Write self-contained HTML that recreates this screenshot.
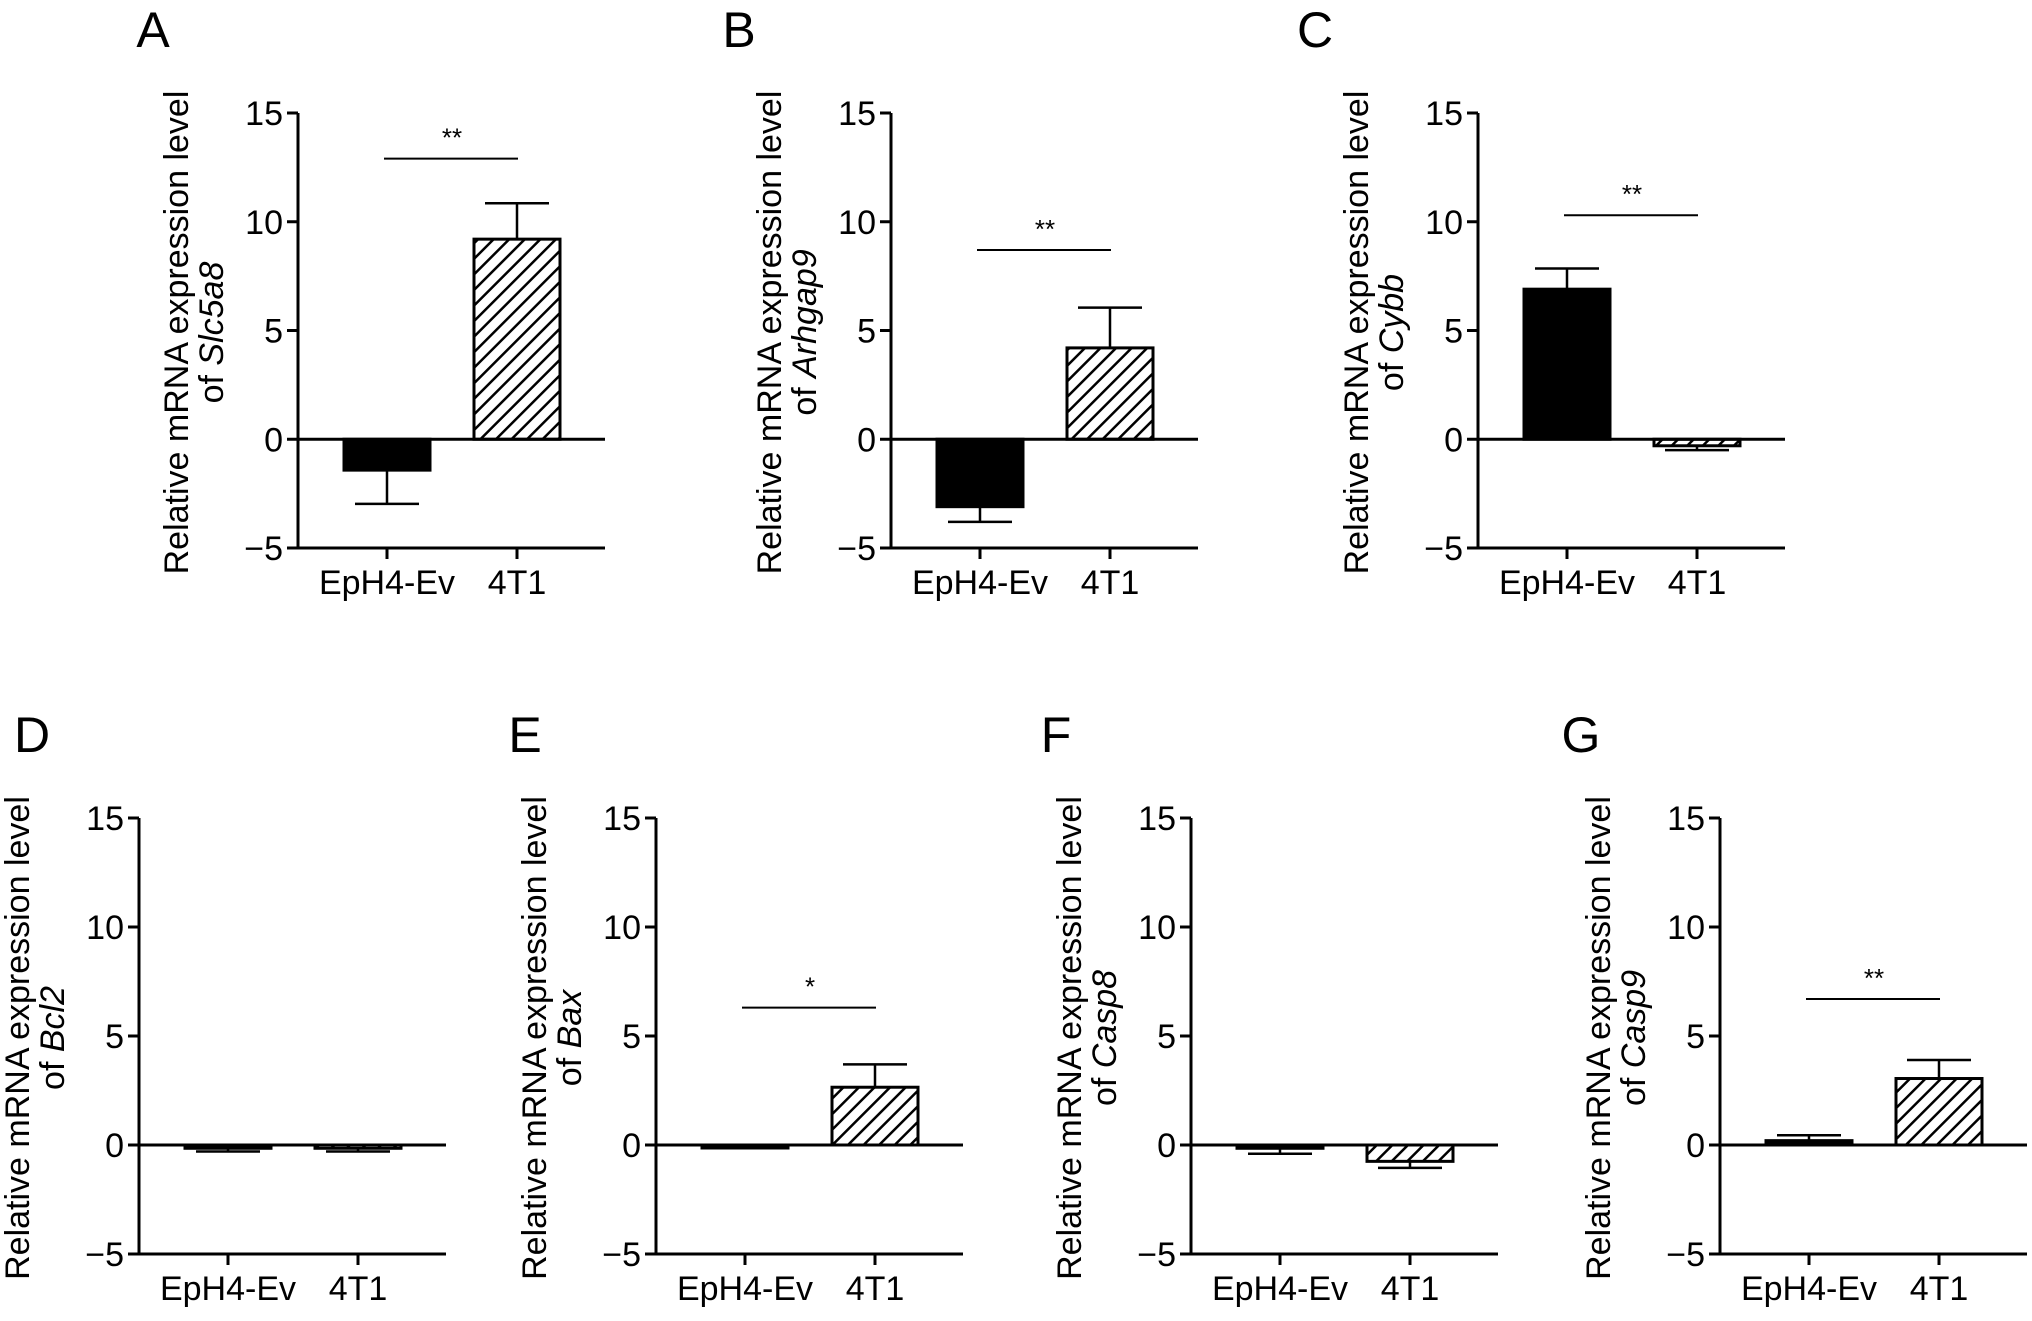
<!DOCTYPE html>
<html><head><meta charset="utf-8">
<style>
html,body{margin:0;padding:0;background:#fff;}
svg{display:block;font-family:"Liberation Sans",Arial,sans-serif;}
</style></head>
<body>
<svg id="fig" width="2032" height="1321" viewBox="0 0 2032 1321" xmlns="http://www.w3.org/2000/svg">
<defs>
<pattern id="hatch" patternUnits="userSpaceOnUse" width="11" height="11" patternTransform="rotate(45)">
<rect width="11" height="11" fill="#fff"/>
<line x1="0" y1="0" x2="0" y2="11" stroke="#000" stroke-width="5"/>
</pattern>
</defs>
</svg>
<script>
const categories = ["EpH4-Ev", "4T1"];
const panelLetters = ["A","B","C","D","E","F","G"];
const genes = ["Slc5a8","Arhgap9","Cybb","Bcl2","Bax","Casp8","Casp9"];
const meanValues = [
  [-1.42, 9.2],
  [-3.1, 4.2],
  [6.9, -0.3],
  [-0.15, -0.15],
  [-0.1, 2.65],
  [-0.15, -0.75],
  [0.2, 3.05]
];
const errorValues = [
  [1.55, 1.65],
  [0.7, 1.85],
  [0.95, 0.2],
  [0.15, 0.15],
  [0.05, 1.05],
  [0.25, 0.3],
  [0.25, 0.85]
];
const sigLevels = [12.9, 8.7, 10.3, null, 6.3, null, 6.7];
const sigLabels = ["**","**","**","","*","","**"];
const yTicks = [-5, 0, 5, 10, 15];

const layout = [
  {ax:298, y15:113, ym5:548, lx:153, ly:30},
  {ax:891, y15:113, ym5:548, lx:739, ly:30},
  {ax:1478, y15:113, ym5:548, lx:1315, ly:30},
  {ax:139, y15:818, ym5:1254, lx:32, ly:735},
  {ax:656, y15:818, ym5:1254, lx:525, ly:735},
  {ax:1191, y15:818, ym5:1254, lx:1056, ly:735},
  {ax:1720, y15:818, ym5:1254, lx:1581, ly:735}
];
const NS="http://www.w3.org/2000/svg";
const svg=document.getElementById('fig');
function mk(tag,attrs,parent){const e=document.createElementNS(NS,tag);for(const k in attrs)e.setAttribute(k,attrs[k]);(parent||svg).appendChild(e);return e;}

meanValues.forEach((vals,p)=>{
  const L=layout[p];
  const g=mk('g',{});
  
  
  const yS=v=>L.y15+(15-v)*(L.ym5-L.y15)/20;
  const xOff=[89,219];
  const xC=i=>L.ax+xOff[i];
  const bw=86;
  const lt=mk('text',{x:L.lx,y:L.ly+17,'font-size':50,'text-anchor':'middle'},g);
  lt.textContent=panelLetters[p];
  
  
  const cy=(L.y15+L.ym5)/2+2;
  const yl=mk('text',{transform:`translate(${L.ax-110},${cy}) rotate(-90)`,'font-size':34,'text-anchor':'middle'},g);
  yl.textContent='Relative mRNA expression level';
  
  
  const yl2=mk('text',{transform:`translate(${L.ax-75},${cy}) rotate(-90)`,'font-size':34,'text-anchor':'middle'},g);
  
  
  const t1=mk('tspan',{},yl2);t1.textContent='of ';
  const t2=mk('tspan',{'font-style':'italic'},yl2);t2.textContent=genes[p];
  vals.forEach((v,i)=>{
    const y0=yS(0),y1=yS(v);
    const r=mk('rect',{x:xC(i)-bw/2,y:Math.min(y0,y1),width:bw,height:Math.max(Math.abs(y1-y0),3),
      fill:i===0?'#000':'url(#hatch)',stroke:'#000','stroke-width':3},g);
    
    
    const e=errorValues[p][i];
    const ye=yS(v+(v>=0?e:-e));
    const el=mk('path',{d:`M${xC(i)},${y1}V${ye}M${xC(i)-32},${ye}H${xC(i)+32}`,stroke:'#000','stroke-width':2.5,fill:'none'},g);
    
    
  });
  const ax=mk('path',{d:`M${L.ax},${L.y15}V${L.ym5}`,stroke:'#000','stroke-width':3,fill:'none'},g);
  
  
  const zl=mk('path',{d:`M${L.ax},${yS(0)}H${L.ax+307}`,stroke:'#000','stroke-width':3},g);
  
  
  const xa=mk('path',{d:`M${L.ax},${L.ym5}H${L.ax+307}`,stroke:'#000','stroke-width':3},g);
  
  
  yTicks.forEach(t=>{
    mk('path',{d:`M${L.ax-11},${yS(t)}H${L.ax}`,stroke:'#000','stroke-width':3},g);
    const tl=mk('text',{x:L.ax-15,y:yS(t)+12,'font-size':34,'text-anchor':'end'},g);
    tl.textContent=t<0?'\u2212'+Math.abs(t):String(t);
    
    
  });
  categories.forEach((c,i)=>{
    mk('path',{d:`M${xC(i)},${L.ym5}V${L.ym5+11}`,stroke:'#000','stroke-width':3},g);
    const cl=mk('text',{x:xC(i),y:L.ym5+46,'font-size':34,'text-anchor':'middle'},g);
    cl.textContent=c;
    
    
  });
  if(sigLevels[p]!==null){
    const sy=yS(sigLevels[p]);
    const sl=mk('path',{d:`M${xC(0)-3},${sy}H${xC(1)+1}`,stroke:'#000','stroke-width':2},g);
    
    
    const st=mk('text',{x:(xC(0)+xC(1))/2,y:sy-12,'font-size':26,'text-anchor':'middle'},g);
    st.textContent=sigLabels[p];
    
    
  }
});
</script>
</body></html>
